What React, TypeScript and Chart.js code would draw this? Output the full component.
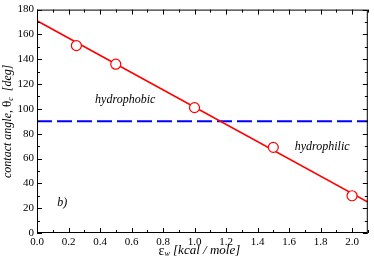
import React, { useEffect, useRef } from "react";
import { Chart, registerables } from "chart.js";

Chart.register(...registerables);

// Data
const epsW = [0.25, 0.5, 1.0, 1.5, 2.0];
const theta = [151, 136, 101, 69, 30];
const fitX = [0, 2.1];
const fitY = [171, 25];
const thresholdX = [0, 2.1];
const thresholdY = [90, 90];
const xTicks = [0, 0.2, 0.4, 0.6, 0.8, 1.0, 1.2, 1.4, 1.6, 1.8, 2.0];
const xMinorTicks = [0.1, 0.3, 0.5, 0.7, 0.9, 1.1, 1.3, 1.5, 1.7, 1.9, 2.1];
const yTicks = [0, 20, 40, 60, 80, 100, 120, 140, 160, 180];
const yMinorTicks = [10, 30, 50, 70, 90, 110, 130, 150, 170];
const annotations = [
  { text: "hydrophobic", x: 0.56, y: 107 },
  { text: "hydrophilic", x: 1.81, y: 69.5 },
  { text: "b)", x: 0.16, y: 24.5 },
];

const SERIF = "'Liberation Serif', 'DejaVu Serif', serif";

function drawSegments(ctx: CanvasRenderingContext2D, segs: { t: string; font: string; dy?: number }[], cx: number, cy: number) {
  let total = 0;
  for (const s of segs) {
    ctx.font = s.font;
    total += ctx.measureText(s.t).width;
  }
  let x = cx - total / 2;
  ctx.textBaseline = "middle";
  ctx.textAlign = "left";
  for (const s of segs) {
    ctx.font = s.font;
    ctx.fillText(s.t, x, cy + (s.dy || 0));
    x += ctx.measureText(s.t).width;
  }
}

const framePlugin = {
  id: "framePlugin",
  afterDraw(chart: any) {
    const ctx: CanvasRenderingContext2D = chart.ctx;
    const { left, right, top, bottom } = chart.chartArea;
    const xs = chart.scales.x;
    const ys = chart.scales.y;
    ctx.save();
    ctx.strokeStyle = "#000";
    ctx.lineWidth = 1;
    ctx.strokeRect(left + 0.5, top + 0.5, right - left - 1, bottom - top - 1);
    const major = 5;
    const minor = 3;
    ctx.beginPath();
    const xt = (v: number, len: number) => {
      const px = Math.round(xs.getPixelForValue(v)) + 0.5;
      ctx.moveTo(px, bottom);
      ctx.lineTo(px, bottom - len);
      ctx.moveTo(px, top);
      ctx.lineTo(px, top + len);
    };
    const yt = (v: number, len: number) => {
      const py = Math.round(ys.getPixelForValue(v)) + 0.5;
      ctx.moveTo(left, py);
      ctx.lineTo(left + len, py);
      ctx.moveTo(right, py);
      ctx.lineTo(right - len, py);
    };
    xTicks.forEach((v) => xt(v, major));
    xMinorTicks.forEach((v) => xt(v, minor));
    yTicks.forEach((v) => yt(v, major));
    yMinorTicks.forEach((v) => yt(v, minor));
    ctx.stroke();

    ctx.fillStyle = "#000";
    // annotations
    ctx.font = `italic 12px ${SERIF}`;
    ctx.textAlign = "center";
    ctx.textBaseline = "middle";
    for (const a of annotations) {
      ctx.fillText(a.text, xs.getPixelForValue(a.x), ys.getPixelForValue(a.y));
    }

    // x title
    drawSegments(
      ctx,
      [
        { t: "ε", font: `14px ${SERIF}` },
        { t: "w", font: `italic 8px ${SERIF}`, dy: 3 },
        { t: " [kcal / mole]", font: `italic 13px ${SERIF}` },
      ],
      (left + right) / 2 - 3,
      251
    );

    // y title
    ctx.save();
    ctx.translate(8, (top + bottom) / 2);
    ctx.rotate(-Math.PI / 2);
    drawSegments(
      ctx,
      [
        { t: "contact angle, ", font: `italic 12px ${SERIF}` },
        { t: "θ", font: `13px ${SERIF}` },
        { t: "c", font: `italic 8px ${SERIF}`, dy: 3 },
        { t: "  [deg]", font: `italic 12px ${SERIF}` },
      ],
      0,
      0
    );
    ctx.restore();
    ctx.restore();
  },
};

export default function App() {
  const ref = useRef<HTMLCanvasElement>(null);
  useEffect(() => {
    if (!ref.current) return;
    const chart = new Chart(ref.current, {
      type: "scatter",
      data: {
        datasets: [
          {
            data: epsW.map((x, i) => ({ x, y: theta[i] })),
            showLine: false,
            pointRadius: 5,
            pointBackgroundColor: "#ffffff",
            pointBorderColor: "#ff0000",
            pointBorderWidth: 1.2,
            order: 0,
          },
          {
            data: fitX.map((x, i) => ({ x, y: fitY[i] })),
            showLine: true,
            borderColor: "#ff0000",
            borderWidth: 1.5,
            pointRadius: 0,
            order: 1,
          },
          {
            data: thresholdX.map((x, i) => ({ x, y: thresholdY[i] })),
            showLine: true,
            borderColor: "#0000ff",
            borderWidth: 2,
            borderDash: [15, 5],
            pointRadius: 0,
            order: 2,
          },
        ],
      },
      options: {
        responsive: false,
        animation: false,
        devicePixelRatio: 1,
        layout: { padding: { top: 4, right: 1, left: 0, bottom: 0 } },
        plugins: { legend: { display: false }, tooltip: { enabled: false } },
        scales: {
          x: {
            type: "linear",
            min: 0,
            max: 2.1,
            grid: { display: false, drawTicks: false },
            border: { display: false },
            afterBuildTicks: (s: any) => {
              s.ticks = xTicks.map((v) => ({ value: v }));
            },
            afterFit: (s: any) => {
              s.height = 29;
            },
            ticks: {
              padding: 3,
              color: "#000",
              font: { family: SERIF, size: 11 },
              maxRotation: 0,
              callback: (v: any) => Number(v).toFixed(1),
            },
          },
          y: {
            type: "linear",
            min: 0,
            max: 180,
            grid: { display: false, drawTicks: false },
            border: { display: false },
            afterBuildTicks: (s: any) => {
              s.ticks = yTicks.map((v) => ({ value: v }));
            },
            afterFit: (s: any) => {
              s.width = 37;
            },
            ticks: {
              padding: 3,
              color: "#000",
              font: { family: SERIF, size: 11 },
              callback: (v: any) => String(v),
            },
          },
        },
      },
      plugins: [framePlugin],
    } as any);
    return () => chart.destroy();
  }, []);
  return (
    <div style={{ position: "fixed", left: 0, top: 0, width: 374, height: 262, background: "#fff" }}>
      <canvas ref={ref} width={374} height={262} />
    </div>
  );
}
